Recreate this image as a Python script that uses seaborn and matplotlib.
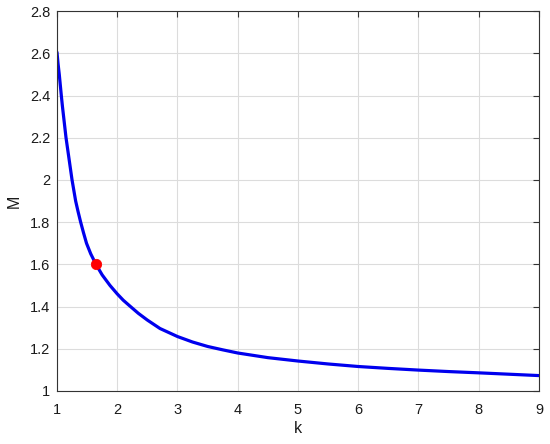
import matplotlib
matplotlib.use("Agg")
import matplotlib.pyplot as plt
import pandas as pd
import seaborn as sns

# values
k_vals = [1.0, 1.018, 1.038, 1.055, 1.072, 1.09, 1.11, 1.13, 1.15, 1.175,
          1.2, 1.225, 1.25, 1.28, 1.31, 1.35, 1.393, 1.44, 1.49, 1.56,
          1.647, 1.75, 1.88, 2.0, 2.1, 2.22, 2.35, 2.5, 2.71, 3.0, 3.25,
          3.5, 3.75, 4.0, 4.5, 5.0, 5.5, 6.0, 6.5, 7.0, 7.5, 8.0, 8.5, 9.0]
m_vals = [2.605, 2.55, 2.5, 2.45, 2.4, 2.35, 2.3, 2.25, 2.2, 2.15,
          2.1, 2.05, 2.0, 1.95, 1.9, 1.85, 1.8, 1.75, 1.7, 1.65,
          1.6, 1.55, 1.5, 1.46, 1.43, 1.4, 1.368, 1.336, 1.296, 1.258, 1.232,
          1.211, 1.195, 1.18, 1.158, 1.142, 1.128, 1.116, 1.107, 1.099,
          1.092, 1.086, 1.0795, 1.073]

# highlighted point
pt_k = [1.647]
pt_m = [1.60]

df = pd.DataFrame({"k": k_vals, "M": m_vals})
pt = pd.DataFrame({"k": pt_k, "M": pt_m})

sns.set_style("whitegrid")
plt.rcParams["font.family"] = ["Liberation Sans", "DejaVu Sans"]

fig = plt.figure(figsize=(5.5, 4.44), dpi=100)
ax = fig.add_axes([0.1036, 0.1194, 0.8764, 0.8556])

sns.lineplot(data=df, x="k", y="M", ax=ax, color="#0000ee", linewidth=2.3,
             sort=False)
sns.scatterplot(data=pt, x="k", y="M", ax=ax, color="red", s=55,
                edgecolor="red", zorder=5)

ax.set_xlim(1, 9)
ax.set_ylim(1, 2.8)
ax.set_xticks(range(1, 10))
ax.set_yticks([1, 1.2, 1.4, 1.6, 1.8, 2, 2.2, 2.4, 2.6, 2.8])
ax.set_yticklabels(["1", "1.2", "1.4", "1.6", "1.8", "2", "2.2", "2.4", "2.6", "2.8"])

ax.grid(True, color="#dcdcdc", linewidth=0.8)
for s in ax.spines.values():
    s.set_visible(True)
    s.set_color("#333333")
    s.set_linewidth(0.8)
ax.tick_params(direction="in", length=4, width=0.8, color="#333333",
               labelsize=10.5, labelcolor="#1a1a1a", top=True, right=True)
ax.tick_params(axis="x", pad=8.5)
ax.tick_params(axis="y", pad=5)
ax.set_xlabel("k", fontsize=11.5, color="#1a1a1a", labelpad=3)
ax.set_ylabel("M", fontsize=11.5, color="#1a1a1a", labelpad=6)

fig.savefig("out.png", dpi=100)
